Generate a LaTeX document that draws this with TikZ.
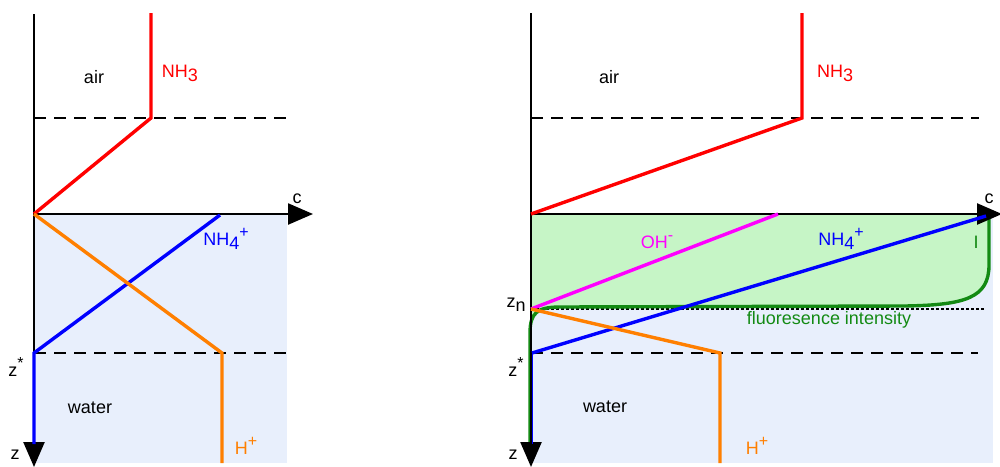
\documentclass[tikz,border=0pt]{standalone}
\usepackage{fontspec}
\setmainfont{Liberation Sans}
\usetikzlibrary{arrows.meta}
\definecolor{waterfill}{HTML}{E8EFFC}
\definecolor{greenfill}{HTML}{C6F5C6}
\definecolor{nhred}{HTML}{FF0000}
\definecolor{nhblue}{HTML}{0000FF}
\definecolor{hplus}{HTML}{FF7F00}
\definecolor{ohmag}{HTML}{FF00FF}
\definecolor{fluo}{HTML}{138A13}
\newcommand{\lowr}[1]{\raisebox{-4pt}{#1}}
\newcommand{\upr}[1]{\raisebox{8pt}{\fontsize{16}{16}\selectfont #1}}
\begin{document}
\begin{tikzpicture}[x=1pt,y=-1pt,
  lbl/.style={font=\fontsize{18}{20}\selectfont, inner sep=0pt},
  axisline/.style={line width=2.4pt, -{Triangle[length=25pt,width=21pt]}},
  plainaxis/.style={line width=2.4pt},
  dashline/.style={line width=2.2pt, dash pattern=on 12pt off 8pt},
  dotline/.style={line width=2.2pt, dash pattern=on 3pt off 2pt},
  curve/.style={line width=3.4pt, line join=miter}]
\useasboundingbox (0,0) rectangle (1000,466);

% ---------------- left panel ----------------
\fill[waterfill] (34,214) rectangle (287,463);
\draw[dashline] (34,118) -- (286,118);
\draw[dashline] (34,353) -- (287,353);
\draw[plainaxis] (34,14) -- (34,214);
\draw[axisline] (34,214) -- (313,214);
\draw[axisline] (34,214) -- (34,467);

\coordinate (LO) at (34,214);
\coordinate (LNtop) at (151,13);
\coordinate (LNk) at (151,118);
\draw[curve, nhred] (LNtop) -- (LNk) -- (LO);

\coordinate (LBs) at (220,215);
\coordinate (LBk) at (34,353);
\coordinate (LBb) at (34,444);
\draw[curve, nhblue] (LBs) -- (LBk) -- (LBb);

\coordinate (LHk) at (222,353);
\coordinate (LHb) at (222,463);
\draw[curve, hplus] (LO) -- (LHk) -- (LHb);

\node[lbl] (lair) at (94,77) {air};
\node[lbl, nhred] (lnh3) at (180,73) {NH\lowr{3}};
\node[lbl] (lc) at (297,199) {c};
\node[lbl, nhblue] (lnh4) at (226,239) {NH\lowr{4}\upr{+}};
\node[lbl] (lzs) at (16,367) {z\upr{*}};
\node[lbl] (lz) at (15,455) {z};
\node[lbl] (lwater) at (90,408) {water};
\node[lbl, hplus] (lhp) at (246,446) {H\upr{+}};

% ---------------- right panel ----------------
\fill[waterfill] (531,214) rectangle (993,463);
\fill[greenfill] (531,214) -- (989,214) -- (989,265)
  .. controls (989,298) and (965,305) .. (905,306) -- (560,307)
  .. controls (537,307) and (531,313) .. (531,333) -- cycle;
\draw[dashline] (531,118) -- (979,118);
\draw[dashline] (531,353) -- (978,353);
\draw[dotline] (531,309) -- (984,309);

\coordinate (RO) at (531,214);
\coordinate (RNtop) at (802,13);
\coordinate (RNk) at (802,118);
\coordinate (Rzn) at (531,309);

\draw[curve, fluo] (989,216) -- (989,265)
  .. controls (989,298) and (965,305) .. (905,306) -- (560,307)
  .. controls (537,307) and (530,313) .. (530,333) -- (530,444);

\draw[plainaxis] (531,13) -- (531,214);
\draw[axisline] (531,214) -- (1002,214);
\draw[axisline] (531,214) -- (531,467);

\draw[curve, nhred] (RNtop) -- (RNk) -- (RO);
\draw[curve, ohmag] (Rzn) -- (778,214);
\draw[curve, nhblue] (532,353) -- (986,216);
\draw[line width=1.2pt, nhblue] (532.8,353) -- (532.8,444);
\coordinate (RHk) at (720,353);
\coordinate (RHb) at (720,463);
\draw[curve, hplus] (Rzn) -- (RHk) -- (RHb);

\node[lbl] (rair) at (609,77) {air};
\node[lbl, nhred] (rnh3) at (835,73) {NH\lowr{3}};
\node[lbl] (rc) at (989,199) {c};
\node[lbl, ohmag] (roh) at (657,242) {OH\upr{-}};
\node[lbl, nhblue] (rnh4) at (841,239) {NH\lowr{4}\upr{+}};
\node[lbl, fluo] (rI) at (976,242) {I};
\node[lbl] (rzn) at (516,305) {z\lowr{n}};
\node[lbl, fluo] (rfl) at (829,320) {fluoresence intensity};
\node[lbl] (rzs) at (516,367) {z\upr{*}};
\node[lbl] (rwater) at (605,407) {water};
\node[lbl, hplus] (rhp) at (757,446) {H\upr{+}};
\node[lbl] (rz) at (513,455) {z};
\end{tikzpicture}
\end{document}
